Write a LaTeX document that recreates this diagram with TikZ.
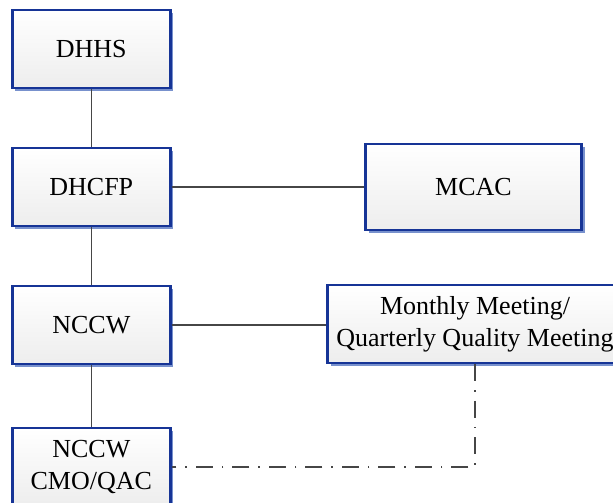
\documentclass[tikz,border=0pt]{standalone}
\usepackage{fontspec}
\setmainfont{Liberation Serif}
\usetikzlibrary{shadows,positioning}
\usepackage{xcolor}
\definecolor{boxblue}{RGB}{22,52,150}
\definecolor{shadblue}{RGB}{120,145,205}
\definecolor{linegray}{RGB}{70,70,70}
\newcommand{\boxw}{158pt}
\newcommand{\boxh}{78pt}
\tikzset{
    boxsty/.style={draw=boxblue,line width=2.5pt,rectangle,top color=white,bottom color=gray!14,
        minimum width=\boxw,minimum height=\boxh,align=center,anchor=center,
        font=\fontsize{26}{32}\selectfont,
        drop shadow={shadow xshift=3pt,shadow yshift=-3pt,fill=shadblue,opacity=1}},
    linksty/.style={draw=linegray,line width=1.3pt},
    dashsty/.style={draw=linegray,line width=1.3pt,dash pattern=on 17pt off 9pt on 1.5pt off 9pt},
}

\begin{document}
\begin{tikzpicture}[x=1pt,y=-1pt]
\useasboundingbox (0,0) rectangle (613,503);
\node[boxsty] (dhhs)  at (91.3,49)  {DHHS};
\node[boxsty] (dhcfp) at (91.3,187) {DHCFP};
\node[boxsty] (nccw)  at (91.3,325) {NCCW};
\node[boxsty] (cmo)   at (91.3,467) {NCCW\\CMO/QAC};
\node[boxsty,minimum width=216pt,minimum height=86pt] (mcac) at (473.5,187) {MCAC};
\node[boxsty,minimum width=295pt] (meet) at (475,324) {Monthly Meeting/\\Quarterly Quality Meeting};
\draw[linksty] (dhhs) -- (dhcfp);
\draw[linksty] (dhcfp) -- (nccw);
\draw[linksty] (nccw) -- (cmo);
\draw[linksty] (dhcfp) -- (mcac);
\draw[linksty] (nccw.east) -- (nccw.east -| meet.west);
\draw[dashsty] (meet.south) |- (cmo.east);
\end{tikzpicture}
\end{document}
